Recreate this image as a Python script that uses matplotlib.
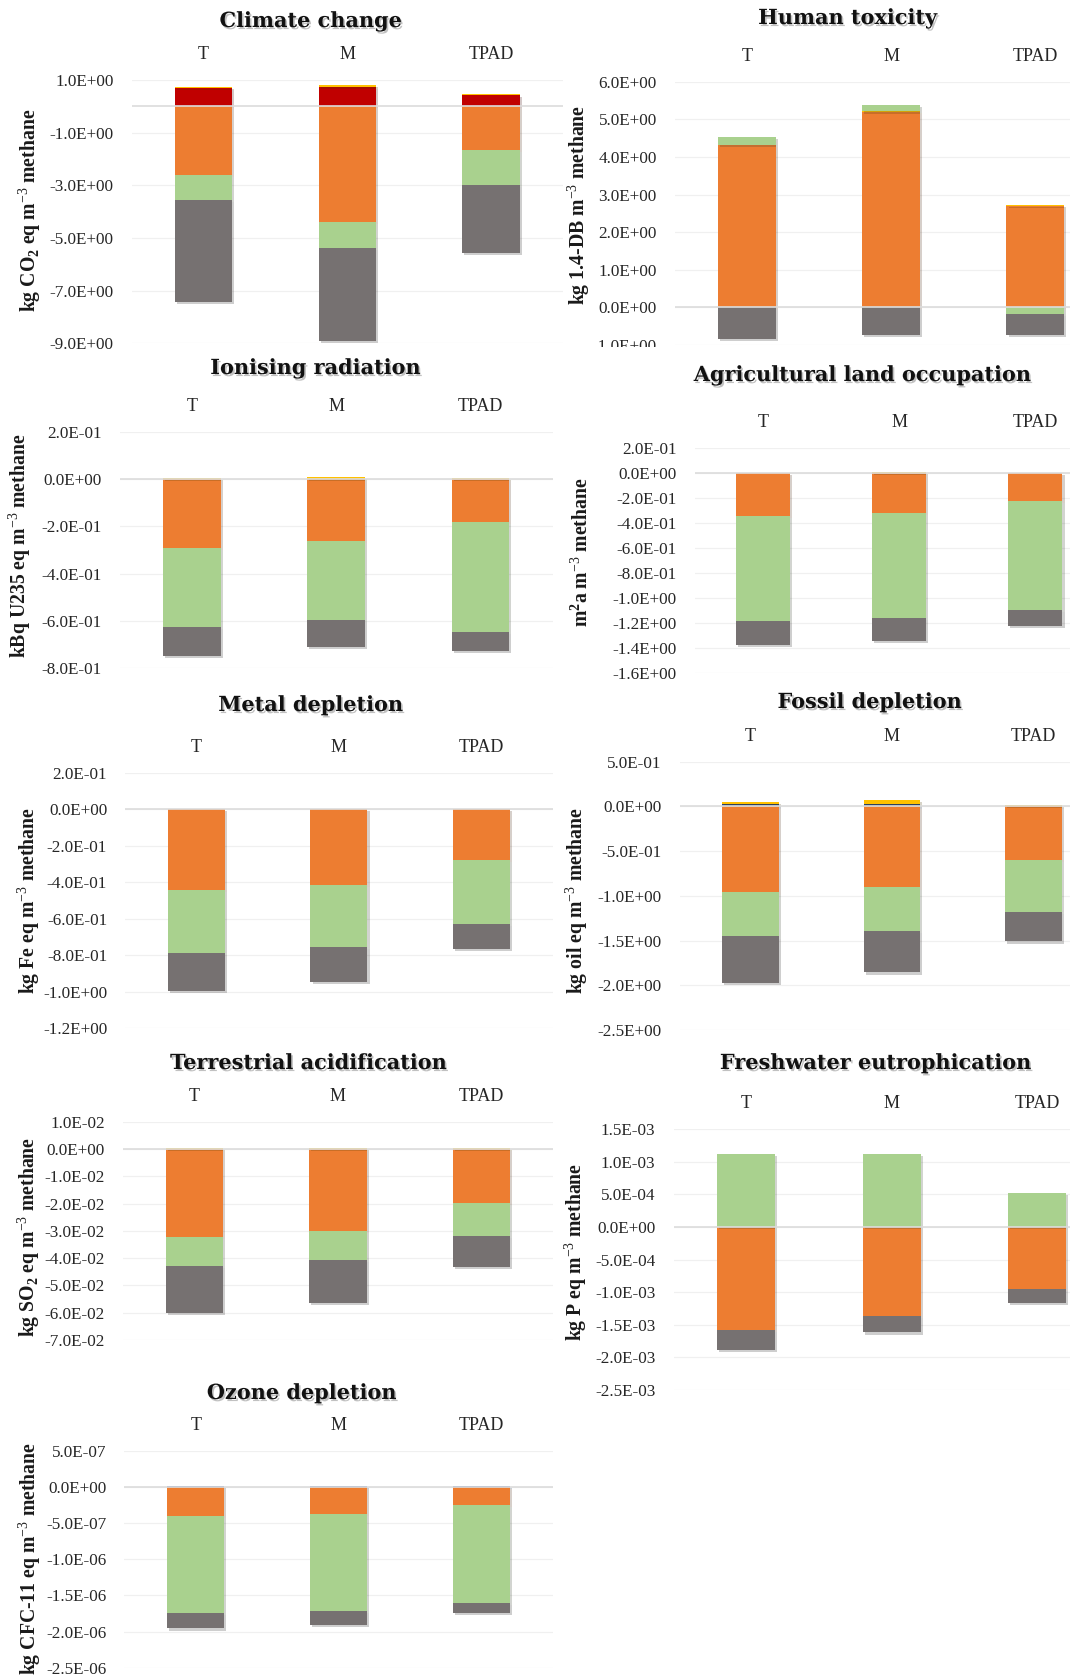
import matplotlib
matplotlib.use('Agg')
import matplotlib.pyplot as plt
import matplotlib.patheffects as pe
from matplotlib.patches import Rectangle
from matplotlib.ticker import FuncFormatter
import numpy as np

plt.rcParams['font.family'] = ['Liberation Serif', 'DejaVu Serif']
plt.rcParams['mathtext.fontset'] = 'custom'
plt.rcParams['mathtext.rm'] = 'Liberation Serif'
plt.rcParams['mathtext.bf'] = 'Liberation Serif:bold'

W, H = 1070, 1676

scenarios = ['T', 'M', 'TPAD']

# stacking order of the contributions (Excel-style: + upward, - downward)
series = ['blue', 'navy', 'red', 'orange', 'yellow', 'green', 'grey']
colors = {'blue': '#4472C4', 'navy': '#264478', 'red': '#C00000',
          'orange': '#ED7D31', 'yellow': '#FFC000', 'green': '#A9D18E',
          'grey': '#767171'}

# impact values per m3 methane for T, M, TPAD
climate = {'blue': [0.02, 0.02, 0.01], 'red': [0.69, 0.70, 0.42],
           'yellow': [0.03, 0.08, 0.02], 'orange': [-2.59, -4.40, -1.66],
           'green': [-0.95, -0.97, -1.31], 'grey': [-3.90, -3.55, -2.59]}
human_tox = {'orange': [4.31, 5.19, 2.70], 'yellow': [0.02, 0.02, 0.02],
             'green': [0.20, 0.18, -0.18], 'grey': [-0.84, -0.73, -0.55]}
ionising = {'yellow': [0.005, 0.008, 0.005], 'orange': [-0.290, -0.260, -0.183],
            'green': [-0.335, -0.337, -0.463], 'grey': [-0.123, -0.112, -0.081]}
agri_land = {'yellow': [0.004, 0.01, 0.004], 'orange': [-0.34, -0.32, -0.22],
             'green': [-0.845, -0.843, -0.876], 'grey': [-0.192, -0.182, -0.129]}
metal = {'yellow': [0.003, 0.003, 0.003], 'orange': [-0.442, -0.415, -0.279],
         'green': [-0.343, -0.339, -0.347], 'grey': [-0.210, -0.192, -0.137]}
fossil = {'navy': [0.03, 0.03, 0.01], 'yellow': [0.02, 0.04, 0.01],
          'orange': [-0.962, -0.906, -0.600], 'green': [-0.492, -0.484, -0.575],
          'grey': [-0.515, -0.467, -0.335]}
acidification = {'yellow': [0.0005, 0.0005, 0.0003],
                 'orange': [-0.0321, -0.0299, -0.0199],
                 'green': [-0.0107, -0.0108, -0.0119],
                 'grey': [-0.0172, -0.0156, -0.0116]}
eutrophication = {'green': [1.12e-3, 1.12e-3, 0.52e-3],
                  'orange': [-1.576e-3, -1.361e-3, -0.947e-3],
                  'grey': [-0.307e-3, -0.256e-3, -0.219e-3]}
ozone = {'blue': [0.015e-6, 0.015e-6, 0.015e-6],
         'orange': [-0.401e-6, -0.378e-6, -0.253e-6],
         'green': [-1.336e-6, -1.336e-6, -1.346e-6],
         'grey': [-0.221e-6, -0.198e-6, -0.143e-6]}

# panel layout in pixels: left edge (x=-0.5), category spacing, top, bottom
panels = [
    ('Climate change', climate, r'kg CO$_\mathbf{2}$ eq m$^{-3}$ methane',
     (131.8, 143.7, 80, 343.3), (-9, 1, 2), (311, 21), (30, 210)),
    ('Human toxicity', human_tox, r'kg 1.4-DB m$^{-3}$ methane',
     (674.8, 144.2, 81.7, 345), (-1, 6, 1), (848, 18), (579, 205)),
    ('Ionising radiation', ionising, r'kBq U235 eq m$^{-3}$ methane',
     (119.7, 144.3, 431.7, 668.3), (-0.8, 0.2, 0.2), (316, 368), (20, 546)),
    ('Agricultural land occupation', agri_land, r'm$^\mathbf{2}$a m$^{-3}$ methane',
     (695, 136.1, 448.3, 672.7), (-1.6, 0.2, 0.2), (863, 375), (582, 552)),
    ('Metal depletion', metal, r'kg Fe eq m$^{-3}$ methane',
     (125.2, 142.5, 772.7, 1028.3), (-1.2, 0.2, 0.2), (311, 705), (29, 901)),
    ('Fossil depletion', fossil, r'kg oil eq m$^{-3}$ methane',
     (679.5, 141.6, 761.7, 1030), (-2.5, 0.5, 0.5), (870, 702), (577, 901)),
    ('Terrestrial acidification', acidification, r'kg SO$_\mathbf{2}$ eq m$^{-3}$ methane',
     (122.9, 143.4, 1121.7, 1340), (-0.07, 0.01, 0.01), (309, 1063), (29, 1237)),
    ('Freshwater eutrophication', eutrophication, r'kg P eq m$^{-3}$ methane',
     (673.5, 145.4, 1129.3, 1390), (-2.5e-3, 1.5e-3, 5e-4), (876, 1063), (576, 1252)),
    ('Ozone depletion', ozone, r'kg CFC-11 eq m$^{-3}$ methane',
     (124.3, 142.9, 1450.7, 1667.7), (-2.5e-6, 5e-7, 5e-7), (302, 1393), (30, 1558)),
]

fig = plt.figure(figsize=(W / 100, H / 100), dpi=100)
fig.patch.set_facecolor('white')

bar_fx = [pe.SimplePatchShadow(offset=(1.5, -1.5), alpha=0.22), pe.Normal()]
title_fx = [pe.SimplePatchShadow(offset=(1.2, -1.5), shadow_rgbFace='#777777', alpha=0.45),
            pe.Normal()]


def fmt(v, pos=None):
    return f'{v:.1E}'


for title, data, ylabel, box, yrange, tpos, lpos in panels:
    left, sp, top, bottom = box
    width = 3 * sp
    ax = fig.add_axes([left / W, 1 - bottom / H, width / W, (bottom - top) / H])
    ax.set_facecolor('none')
    x = np.arange(len(scenarios))
    pos_base = np.zeros(len(scenarios))
    neg_base = np.zeros(len(scenarios))
    for s in series:
        if s not in data:
            continue
        vals = np.array(data[s], dtype=float)
        base = np.where(vals >= 0, pos_base, neg_base)
        ax.bar(x, vals, bottom=base, width=0.4, color=colors[s],
               zorder=2, path_effects=bar_fx)
        pos_base += np.where(vals >= 0, vals, 0)
        neg_base += np.where(vals < 0, vals, 0)

    lo, hi, step = yrange
    n = int(round((hi - lo) / step))
    ticks = [lo + i * step for i in range(n + 1)]
    ticks = [0.0 if abs(t) < step / 1000 else t for t in ticks]
    ax.set_ylim(lo, hi)
    ax.set_xlim(-0.5, 2.5)
    ax.set_yticks(ticks)
    ax.yaxis.set_major_formatter(FuncFormatter(fmt))
    ax.tick_params(axis='y', length=0, pad=13, labelsize=12.3, labelcolor='#262626')
    ax.set_xticks([])
    for t in ticks:
        ax.axhline(t, color='#F0F0F0', lw=0.9, zorder=0)
    ax.axhline(0, color='#DCDCDC', lw=1.2, zorder=3)
    for spine in ax.spines.values():
        spine.set_visible(False)

    for i, name in enumerate(scenarios):
        ax.annotate(name, xy=(i, 1), xycoords=('data', 'axes fraction'),
                    xytext=(0, 18.5), textcoords='offset points',
                    ha='center', va='center', fontsize=13, color='#262626')

    fig.text(tpos[0] / W, 1 - tpos[1] / H, title, ha='center', va='center',
             family='DejaVu Serif', fontweight='bold', fontsize=15,
             color='#111111', path_effects=title_fx)
    fig.text(lpos[0] / W, 1 - lpos[1] / H, ylabel, ha='center', va='center',
             rotation=90, fontweight='bold', fontsize=14.2, color='#1a1a1a')

# the agricultural panel sits over the lowest tick of the toxicity panel
fig.patches.append(Rectangle((560 / W, 1 - 362 / H), 510 / W, 15 / H,
                             transform=fig.transFigure, facecolor='white',
                             edgecolor='none', zorder=5))

fig.savefig('out.png', dpi=100, facecolor='white')
